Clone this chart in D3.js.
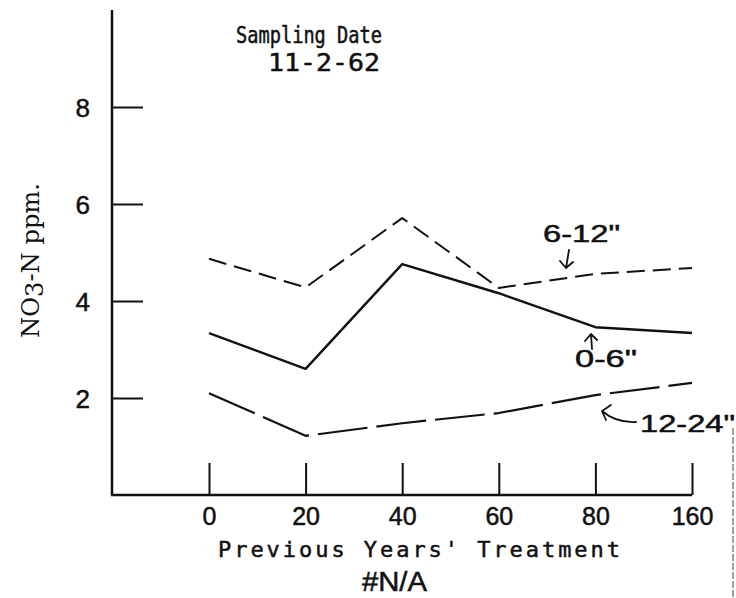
<!DOCTYPE html>
<html>
<head>
<meta charset="utf-8">
<script src="https://cdn.jsdelivr.net/npm/d3@7/dist/d3.min.js"></script>
<style>
  html, body { margin: 0; padding: 0; background: #fff; }
  svg { display: block; }
  .type { font-family: "DejaVu Sans Mono", "Liberation Mono", monospace; fill: #111; stroke: #111; stroke-width: 0.5px; }
  .num { font-family: "Liberation Sans Narrow", "Liberation Sans", Arial, sans-serif; fill: #111; stroke: #111; stroke-width: 0.5px; }
</style>
</head>
<body>
<svg id="chart" width="736" height="598"></svg>
<script>
// Previous years' nitrogen treatment (x categories)
const treatments = ["0", "20", "40", "60", "80", "160"];
// NO3-N (ppm) by soil depth, sampled 11-2-62
const depth0to6   = [3.34, 2.60, 4.76, 4.16, 3.46, 3.34];
const depth6to12  = [4.87, 4.28, 5.71, 4.27, 4.56, 4.68];
const depth12to24 = [2.10, 1.22, 1.48, 1.69, 2.06, 2.31];
const yTicks = [2, 4, 6, 8];

const svg = d3.select("#chart");
const ink = "#111";

const x = d3.scalePoint().domain(treatments).range([209, 692]);
const y = d3.scaleLinear().domain([0, 10]).range([495, 10]);
const axisX = 112; // position of the vertical axis

// Vertical axis with ticks pointing right, labels on the left
const gy = svg.append("g")
  .attr("transform", `translate(${axisX},0)`)
  .call(d3.axisLeft(y).tickValues(yTicks).tickSize(-31).tickSizeOuter(0).tickPadding(22)
        .tickFormat(d3.format("d")));
gy.select(".domain").remove();
gy.selectAll(".tick line").attr("stroke", ink).attr("stroke-width", 2);
gy.selectAll(".tick text").attr("class", "num").attr("dy", "0.36em").style("font-size", "26px");
svg.append("line")
  .attr("x1", axisX).attr("x2", axisX)
  .attr("y1", y(0)).attr("y2", y(10))
  .attr("stroke", ink).attr("stroke-width", 2.5);

// Horizontal axis with ticks pointing up
const gx = svg.append("g")
  .attr("transform", `translate(0,${y(0)})`)
  .call(d3.axisBottom(x).tickSize(-32).tickSizeOuter(0).tickPadding(12));
gx.select(".domain").remove();
gx.selectAll(".tick line").attr("stroke", ink).attr("stroke-width", 2);
gx.selectAll(".tick text").attr("class", "num").style("font-size", "25px");
svg.append("line")
  .attr("x1", axisX - 1).attr("x2", x("160"))
  .attr("y1", y(0)).attr("y2", y(0))
  .attr("stroke", ink).attr("stroke-width", 2.5);

// Depth series
const line = d3.line().x((d, i) => x(treatments[i])).y(d => y(d));
const series = [
  { values: depth6to12,  width: 2,   dash: "18,8" },
  { values: depth0to6,   width: 2.4, dash: null },
  { values: depth12to24, width: 2.2, dash: "50,9" }
];
series.forEach(s => {
  svg.append("path")
    .datum(s.values)
    .attr("d", line)
    .attr("fill", "none")
    .attr("stroke", ink)
    .attr("stroke-width", s.width)
    .attr("stroke-linejoin", "round")
    .attr("stroke-dasharray", s.dash);
});

// Title
svg.append("text").attr("class", "type")
  .attr("x", 236).attr("y", 43)
  .attr("textLength", 146).attr("lengthAdjust", "spacingAndGlyphs")
  .style("font-size", "23px").text("Sampling Date");
svg.append("text").attr("class", "type")
  .attr("x", 268).attr("y", 71)
  .attr("textLength", 112).attr("lengthAdjust", "spacingAndGlyphs")
  .style("font-size", "25px").text("11-2-62");

// Axis titles
svg.append("text").attr("class", "type")
  .attr("x", 218).attr("y", 557)
  .attr("textLength", 402).attr("lengthAdjust", "spacing")
  .style("font-size", "22px").text("Previous Years' Treatment");
svg.append("text").attr("class", "num")
  .attr("x", 362).attr("y", 591)
  .attr("textLength", 65).attr("lengthAdjust", "spacingAndGlyphs")
  .style("font-size", "27px").text("#N/A");

const yTitle = svg.append("text")
  .attr("transform", "translate(39,338) rotate(-90)")
  .attr("textLength", 155).attr("lengthAdjust", "spacingAndGlyphs")
  .style("font-family", "'DejaVu Serif', 'Liberation Serif', serif")
  .style("font-size", "24px").attr("fill", ink);
yTitle.append("tspan").text("NO");
yTitle.append("tspan").attr("dy", 4).text("3");
yTitle.append("tspan").attr("dy", -4).text("-N ppm.");

// Series labels with pointer arrows
const labels = [
  { text: "6-12\"", x: 543, y: 242, len: 77 },
  { text: "0-6\"",  x: 575, y: 367, len: 62 },
  { text: "12-24\"", x: 640, y: 432, len: 95 }
];
labels.forEach(l => {
  svg.append("text").attr("class", "num")
    .attr("x", l.x).attr("y", l.y)
    .attr("textLength", l.len).attr("lengthAdjust", "spacingAndGlyphs")
    .style("font-size", "24px").text(l.text);
});

const arrows = [
  // 6-12" pointer (down)
  "M569,250 L566,268 M560,261 L566,268 L573,262",
  // 0-6" pointer (up)
  "M592,349 L591,334 M585,341 L591,334 L597,340",
  // 12-24" pointer (curved, up-left)
  "M636,422 Q616,423 602,411 M602,411 L611,405 M602,411 L606,420"
];
arrows.forEach(d => {
  svg.append("path").attr("d", d)
    .attr("fill", "none").attr("stroke", ink)
    .attr("stroke-width", 1.8).attr("stroke-linecap", "round").attr("stroke-linejoin", "round");
});

// Page edge rule at the right
svg.append("line")
  .attr("x1", 733).attr("x2", 733).attr("y1", 428).attr("y2", 598)
  .attr("stroke", "#444").attr("stroke-width", 1).attr("stroke-dasharray", "7,2");
</script>
</body>
</html>
